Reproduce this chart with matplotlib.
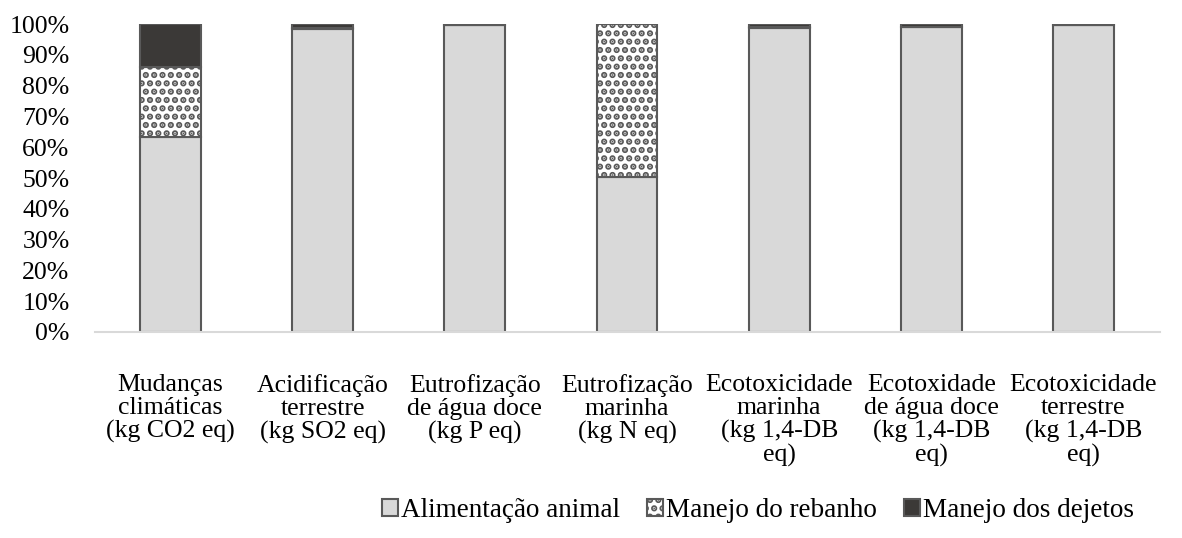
import matplotlib
matplotlib.use("Agg")
import matplotlib.pyplot as plt
from matplotlib.ticker import PercentFormatter

plt.rcParams['font.family'] = ['Liberation Serif', 'DejaVu Serif']
plt.rcParams['hatch.color'] = '#6e6e6e'
plt.rcParams['hatch.linewidth'] = 3.2

categories = [
    "Mudanças\nclimáticas\n(kg CO2 eq)",
    "Acidificação\nterrestre\n(kg SO2 eq)",
    "Eutrofização\nde água doce\n(kg P eq)",
    "Eutrofização\nmarinha\n(kg N eq)",
    "Ecotoxicidade\nmarinha\n(kg 1,4-DB\neq)",
    "Ecotoxidade\nde água doce\n(kg 1,4-DB\neq)",
    "Ecotoxicidade\nterrestre\n(kg 1,4-DB\neq)",
]
alimentacao = [63.3, 98.6, 99.6, 50.2, 98.9, 99.0, 99.9]
rebanho = [22.7, 0.2, 0.1, 49.8, 0.1, 0.0, 0.0]
dejetos = [14.0, 1.2, 0.3, 0.0, 1.0, 1.0, 0.1]
series_names = ["Alimentação animal", "Manejo do rebanho", "Manejo dos dejetos"]

fig = plt.figure(figsize=(11.82, 5.38), dpi=100)
ax = fig.add_axes([0.080, 0.383, 0.901, 0.572])

x = range(len(categories))
w = 0.40
edge = '#595959'
b1 = ax.bar(x, alimentacao, w, color='#d9d9d9', edgecolor=edge, linewidth=1.5,
            label=series_names[0])
b2 = ax.bar(x, rebanho, w, bottom=alimentacao, color='white', edgecolor=edge,
            linewidth=1.5, hatch='..', label=series_names[1])
bottom3 = [a + r for a, r in zip(alimentacao, rebanho)]
b3 = ax.bar(x, dejetos, w, bottom=bottom3, color='#3b3937', edgecolor=edge,
            linewidth=1.5, label=series_names[2])

ax.set_ylim(0, 100)
ax.set_xlim(-0.5, len(categories) - 0.5)
ax.set_yticks(range(0, 101, 10))
ax.yaxis.set_major_formatter(PercentFormatter(decimals=0))
ax.set_xticks(list(x))
ax.set_xticklabels(categories, linespacing=1.07)
ax.tick_params(axis='both', length=0, labelsize=18.5)
ax.tick_params(axis='y', pad=18)
ax.tick_params(axis='x', pad=30)
for s in ['top', 'right', 'left']:
    ax.spines[s].set_visible(False)
ax.spines['bottom'].set_color('#d9d9d9')
ax.spines['bottom'].set_linewidth(1.5)

fig.legend(handles=[b1, b2, b3], labels=series_names, loc='lower center',
           bbox_to_anchor=(0.641, -0.012), ncol=3, frameon=False, fontsize=19.5,
           handlelength=0.6, handleheight=0.6, handletextpad=0.1,
           columnspacing=1.0, borderpad=0.3)

fig.savefig("out.png", dpi=100)
